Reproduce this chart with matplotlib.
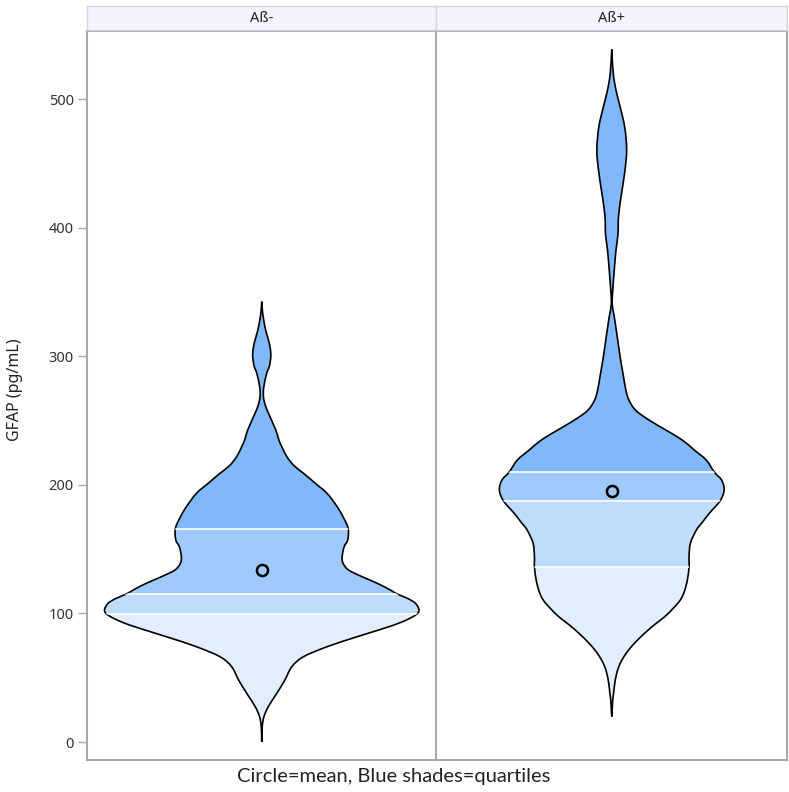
import numpy as np
import matplotlib
matplotlib.use("Agg")
import matplotlib.pyplot as plt
from matplotlib.path import Path
from matplotlib.patches import PathPatch, Rectangle


# data
GROUPS = ["Aß-", "Aß+"]

# kde outline: value (pg/mL) and relative density
NEG_VALUES = [0, 12, 19.7, 27.5, 37.9, 48.2, 58.6, 66.3, 74.1, 81.9, 88.4, 93.5,
              98.7, 102.6, 107.8, 111.7, 115, 118.2, 123.4, 128.5, 133.7, 138.9,
              144, 151.9, 157, 166, 175, 183, 193.4, 201.2, 208.9, 215, 221.9,
              229.6, 235, 242.6, 255.6, 262, 268.5, 276, 287, 292, 299.6, 306,
              312.6, 320, 328, 335, 342.5]
NEG_DENSITY = [0, 0.5, 2.2, 6.5, 15, 23, 30, 41.5, 65, 95, 121.5, 140,
               153, 156.5, 153, 145, 135, 128, 115, 100, 86.5, 81,
               80, 82, 85.5, 86, 81, 75, 65, 53.3, 41.7, 32, 25,
               20, 17, 14, 6.7, 3.5, 1.7, 2, 5, 7.5, 9, 8.5,
               6.7, 4, 2, 0.7, 0]

POS_VALUES = [19.7, 26, 32.7, 39, 45.6, 52, 58.6, 65, 71.5, 78, 84.5, 91, 97.4,
              104, 110.4, 117, 126, 136.3, 144, 154.5, 164.9, 171, 177.8, 187.6,
              196, 203.7, 209.7, 219.3, 227, 234.8, 242.6, 250.4, 258, 266, 273.7,
              284, 299.6, 315, 330.7, 341, 351.5, 367, 382.6, 395, 408.5, 424,
              442, 460.3, 478.5, 494, 507, 520, 538.6]
POS_DENSITY = [0, 0.5, 1, 2, 3, 4.5, 7, 11, 16.7, 24, 32.5, 42, 52.5,
               61, 68, 72, 75, 76.7, 76.7, 78, 84, 90, 96.7, 107.5,
               111.5, 109, 102, 93.7, 82, 70, 53.7, 37, 23.7, 17, 14,
               11.7, 8.3, 5.5, 2.5, 0.4, 1.0, 2.5, 4.2, 6.2, 6.7, 9.2,
               12.7, 14.8, 12.8, 8.3, 4.2, 1.5, 0]

# quartiles (Q1, median, Q3) and means
QUARTILES = [[99.5, 115, 165.6], [136.3, 187.6, 210]]
MEANS = [133.7, 195.2]

SHADES = ["#e0eefe", "#c0dcfc", "#a0c9fb", "#80b8f9"]


def side_path(xs, ys):
    # smooth curve through the read points (catmull-rom as bezier)
    pts = np.column_stack([xs, ys])
    ext = np.vstack([pts[0], pts, pts[-1]])
    verts = [pts[0]]
    for i in range(1, len(ext) - 2):
        p0, p1, p2, p3 = ext[i - 1], ext[i], ext[i + 1], ext[i + 2]
        verts += [p1 + (p2 - p0) / 6, p2 - (p3 - p1) / 6, p2]
    return verts


def violin(ax, values, density, scale, quartiles, mean):
    v = np.array(values, dtype=float)
    w = np.array(density, dtype=float) * scale
    right = side_path(w, v)
    left = side_path(-w[::-1], v[::-1])
    verts = right + left + [right[0]]
    n = (len(right) - 1)
    codes = ([Path.MOVETO] + [Path.CURVE4] * n + [Path.LINETO] + [Path.CURVE4] * n
             + [Path.CLOSEPOLY])
    patch = PathPatch(Path(verts, codes), facecolor="none", edgecolor="black",
                      lw=1.2, zorder=3)
    ax.add_patch(patch)

    edges = [v.min() - 5] + list(quartiles) + [v.max() + 5]
    for lo, hi, c in zip(edges[:-1], edges[1:], SHADES):
        r = Rectangle((-1, lo), 2, hi - lo, facecolor=c, edgecolor="none", zorder=1)
        ax.add_patch(r)
        r.set_clip_path(patch)
    for q in quartiles:
        ln, = ax.plot([-1, 1], [q, q], color="white", lw=1.2, zorder=4)
        ln.set_clip_path(patch)
    ax.plot([0], [mean], "o", ms=8, mfc="none", mec="black", mew=1.8, zorder=5)


fig = plt.figure(figsize=(7.89, 7.92), dpi=100)
plt.rcParams["font.family"] = ["Noto Sans", "DejaVu Sans"]

max_dens = max(max(NEG_DENSITY), max(POS_DENSITY))
scale = 0.9 / max_dens

lefts = [0.1103, 0.5532]
widths = [0.4429, 0.4443]
border = "#a6a8ac"
data = [(NEG_VALUES, NEG_DENSITY), (POS_VALUES, POS_DENSITY)]

for i, grp in enumerate(GROUPS):
    ax = fig.add_axes([lefts[i], 0.0404, widths[i], 0.9205])
    violin(ax, data[i][0], data[i][1], scale, QUARTILES[i], MEANS[i])
    ax.set_xlim(-1, 1)
    ax.set_ylim(-14, 553)
    ax.set_xticks([])
    for s in ax.spines.values():
        s.set_color(border)
        s.set_linewidth(1.5)
    if i == 0:
        ax.set_yticks([0, 100, 200, 300, 400, 500])
        ax.tick_params(axis="y", length=6.5, width=1, color=border,
                       labelsize=10.5, labelcolor="#333333", pad=3)
    else:
        ax.set_yticks([])

    st = fig.add_axes([lefts[i], 0.9621, widths[i], 0.0303])
    st.set_facecolor("#f4f5fc")
    st.set_xticks([])
    st.set_yticks([])
    for s in st.spines.values():
        s.set_color("#d4d6dc")
        s.set_linewidth(1)
    st.text(0.5, 0.5, grp, ha="center", va="center", fontsize=10.5, color="#222222",
            transform=st.transAxes)

fig.text(0.019, 0.508, "GFAP (pg/mL)", rotation=90, ha="center", va="center",
         fontsize=11.5, color="#222222")
fig.text(0.499, 0.02, "Circle=mean, Blue shades=quartiles", ha="center",
         va="center", fontsize=14.5, color="#222222", family=["Lato", "DejaVu Sans"])

fig.savefig("out.png", dpi=100)
